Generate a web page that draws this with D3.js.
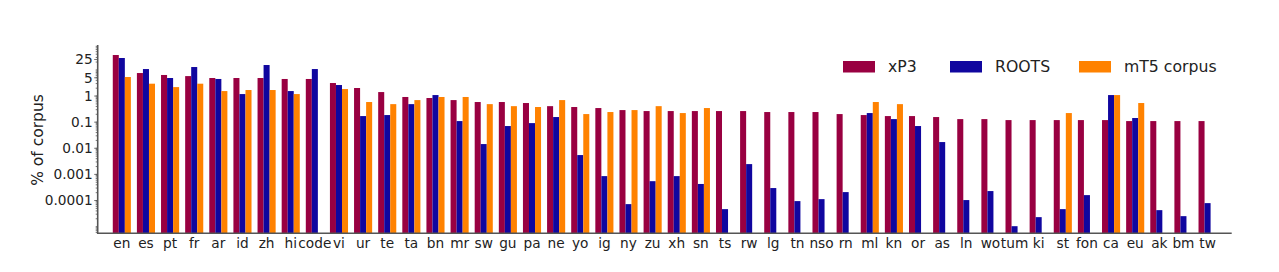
<!DOCTYPE html>
<html><head><meta charset="utf-8">
<script src="https://cdn.jsdelivr.net/npm/d3@7"></script>
<style>body{margin:0;background:#fff}svg{display:block;font-family:"DejaVu Sans",sans-serif}</style>
</head><body><svg id="c" width="1279" height="272"></svg>
<script>
const categories = ["en","es","pt","fr","ar","id","zh","hi","code","vi","ur","te","ta","bn","mr","sw","gu","pa","ne","yo","ig","ny","zu","xh","sn","ts","rw","lg","tn","nso","rn","ml","kn","or","as","ln","wo","tum","ki","st","fon","ca","eu","ak","bm","tw"];
const xp3 = [37.2,7.6,6.4,5.8,4.9,4.9,4.9,4.5,4.5,3.15,2.03,1.42,0.92,0.84,0.70,0.59,0.59,0.54,0.41,0.38,0.347,0.29,0.266,0.266,0.266,0.266,0.266,0.244,0.244,0.244,0.204,0.187,0.171,0.171,0.157,0.131,0.131,0.12,0.12,0.12,0.12,0.12,0.11,0.11,0.11,0.11];
const roots = [28.6,10.8,4.9,12.9,4.5,1.19,15.4,1.55,10.8,2.64,0.171,0.187,0.49,1.09,0.110,0.0145,0.071,0.092,0.157,0.0055,0.00086,0.0000728,0.00055,0.00086,0.00043,0.0000468,0.00248,0.0003,0.000095,0.000113,0.00021,0.223,0.131,0.071,0.0173,0.000104,0.00023,0.0000104,0.0000231,0.0000468,0.000161,1.09,0.144,0.0000428,0.0000252,0.0000795];
const mt5 = [5.35,2.97,2.2,2.97,1.55,1.7,1.7,1.19,null,1.85,0.59,0.49,0.70,0.92,0.92,0.49,0.41,0.38,0.70,0.204,0.244,0.29,0.41,0.223,0.347,null,null,null,null,null,null,0.59,0.49,null,null,null,null,null,null,0.223,null,1.09,0.54,null,null,null];
const seriesNames = ["xP3","ROOTS","mT5 corpus"];
const colors = ["#990041","#10069F","#FF8200"];
const yTickValues = [25,5,1,0.1,0.01,0.001,0.0001];
const yTickLabels = ["25","5","1","0.1","0.01","0.001","0.0001"];

const svg = d3.select("#c");
const x = d3.scaleLinear().domain([-1, categories.length]).range([97.7, 1231.7]);
const y = d3.scaleLog().domain([Math.pow(10,-5.255), Math.pow(10,1.954)]).range([233.3, 45]);
const bw = x(0.25) - x(0);
const allSeries = [xp3, roots, mt5];

allSeries.forEach((s, si) => {
  svg.append("g").selectAll("rect")
    .data(s.map((v,i)=>({v,i})).filter(d=>d.v!=null))
    .join("rect")
    .attr("x", d => x(d.i + (si-1)*0.25) - bw/2)
    .attr("width", bw)
    .attr("y", d => y(d.v))
    .attr("height", d => y.range()[0] - y(d.v))
    .attr("fill", colors[si]);
});

// left axis
const ax = svg.append("g").attr("transform", `translate(${x.range()[0]},0)`);
const minor = [];
for (let e = -6; e <= 2; e++) for (let m = 1; m <= 9; m++) {
  const v = m*Math.pow(10,e);
  if (v >= y.domain()[0] && v <= y.domain()[1]) minor.push(v);
}
ax.selectAll(".mn").data(minor).join("line")
  .attr("x1",-2).attr("x2",0).attr("y1",d=>y(d)).attr("y2",d=>y(d))
  .attr("stroke","#555").attr("stroke-width",0.8);
ax.selectAll(".mj").data(yTickValues).join("line")
  .attr("x1",-3.5).attr("x2",0).attr("y1",d=>y(d)).attr("y2",d=>y(d))
  .attr("stroke","#555").attr("stroke-width",0.8);
ax.selectAll("text").data(yTickValues).join("text")
  .attr("x",-5).attr("y",d=>y(d)).attr("dy","0.35em")
  .attr("text-anchor","end").attr("font-size",13.7).attr("fill","#222")
  .text((d,i)=>yTickLabels[i]);
ax.append("line").attr("x1",0).attr("x2",0).attr("y1",y.range()[1]).attr("y2",y.range()[0]+0.7)
  .attr("stroke","#555").attr("stroke-width",1.6);

// bottom axis
const bx = svg.append("g");
bx.append("line").attr("x1",x.range()[0]).attr("x2",x.range()[1]).attr("y1",y.range()[0]).attr("y2",y.range()[0])
  .attr("stroke","#555").attr("stroke-width",1.6);
bx.selectAll("text").data(categories).join("text")
  .attr("x",(d,i)=>x(i)).attr("y",248).attr("text-anchor","middle")
  .attr("font-size",13.7).attr("fill","#222").text(d=>d);

// y label
svg.append("text").attr("transform","translate(43,140) rotate(-90)")
  .attr("text-anchor","middle").attr("font-size",15.5).attr("fill","#222").text("% of corpus");

// legend
const legX = [843, 950, 1079];
const lg = svg.append("g");
seriesNames.forEach((n,i)=>{
  lg.append("rect").attr("x",legX[i]).attr("y",61).attr("width",32).attr("height",11.5).attr("fill",colors[i]);
  lg.append("text").attr("x",legX[i]+45).attr("y",67).attr("dy","0.35em").attr("font-size",15.7).attr("fill","#222").text(n);
});
</script></body></html>
